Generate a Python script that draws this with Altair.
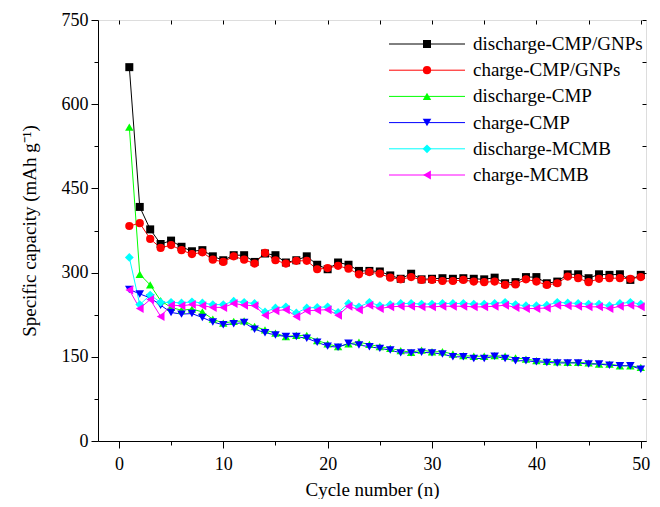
import altair as alt
import pandas as pd

cycles = list(range(1, 51))

names = ["discharge-CMP/GNPs", "charge-CMP/GNPs", "discharge-CMP",
         "charge-CMP", "discharge-MCMB", "charge-MCMB"]

dis_cmp_gnp = [666, 417, 377, 351, 357, 346, 338, 340, 329, 322,
               331, 331, 319, 334, 331, 318, 322, 329, 314, 306,
               318, 314, 303, 303, 302, 295, 289, 298, 288, 289,
               290, 289, 290, 289, 288, 291, 281, 283, 292, 292,
               281, 284, 297, 297, 290, 297, 296, 297, 287, 296]
chg_cmp_gnp = [383, 388, 360, 344, 349, 340, 333, 336, 323, 319,
               329, 323, 316, 335, 322, 316, 321, 321, 306, 308,
               312, 307, 297, 301, 298, 291, 288, 292, 287, 287,
               285, 285, 287, 284, 283, 284, 278, 279, 288, 284,
               278, 281, 293, 290, 283, 289, 290, 290, 289, 292]
dis_cmp = [559, 297, 278, 250, 238, 233, 235, 230, 217, 210,
           213, 214, 204, 198, 192, 186, 188, 188, 179, 173,
           168, 173, 176, 172, 168, 165, 161, 158, 162, 159,
           159, 155, 152, 151, 151, 152, 151, 148, 146, 143,
           142, 141, 140, 140, 139, 137, 137, 134, 134, 131]
chg_cmp = [270, 262, 255, 242, 229, 226, 227, 220, 212, 207,
           209, 211, 199, 193, 189, 186, 186, 183, 176, 169,
           167, 174, 171, 168, 165, 162, 157, 157, 158, 157,
           155, 150, 150, 147, 147, 151, 147, 143, 143, 141,
           140, 139, 139, 139, 137, 137, 135, 134, 134, 128]
dis_mcmb = [327, 243, 260, 247, 247, 246, 248, 246, 243, 243,
            249, 247, 245, 230, 237, 239, 228, 237, 238, 239,
            229, 245, 239, 247, 241, 243, 245, 245, 244, 244,
            245, 245, 245, 244, 244, 245, 247, 243, 241, 241,
            242, 247, 246, 245, 244, 244, 241, 245, 247, 244]
chg_mcmb = [269, 236, 252, 222, 242, 241, 243, 241, 238, 238,
            245, 242, 241, 224, 232, 234, 222, 232, 233, 234,
            224, 240, 234, 242, 236, 239, 240, 240, 239, 239,
            240, 240, 240, 239, 239, 240, 242, 238, 236, 236,
            237, 242, 241, 240, 239, 239, 236, 240, 242, 239]

series_values = [dis_cmp_gnp, chg_cmp_gnp, dis_cmp, chg_cmp, dis_mcmb, chg_mcmb]

colors = ["#000000", "#ff0000", "#00ff00", "#0000ff", "#00ffff", "#ff00ff"]
shapes = ["square", "circle", "triangle-up", "triangle-down", "diamond", "triangle-left"]
sizes = [64, 81, 130, 130, 110, 120]

x_major = [0, 10, 20, 30, 40, 50]
x_minor = [5, 15, 25, 35, 45]
x_all = [0, 5, 10, 15, 20, 25, 30, 35, 40, 45, 50]
y_major = [0, 150, 300, 450, 600, 750]
y_minor = [75, 225, 375, 525, 675]
y_all = [0, 75, 150, 225, 300, 375, 450, 525, 600, 675, 750]

rows = []
for name, vals in zip(names, series_values):
    for c, v in zip(cycles, vals):
        rows.append({"cycle": c, "capacity": v, "series": name})
df = pd.DataFrame(rows)
leg = pd.DataFrame({"series": names})

FONT = "Liberation Serif"
xdom = alt.Scale(domain=[-2.0, 50.5], nice=False, zero=False)
ydom = alt.Scale(domain=[0, 750], nice=False)
color_s = alt.Scale(domain=names, range=colors)
shape_s = alt.Scale(domain=names, range=shapes)
size_s = alt.Scale(domain=names, range=sizes)

common_axis = dict(grid=False, domainColor="black", tickColor="black",
                   labelColor="black", titleColor="black",
                   labelFont=FONT, titleFont=FONT, labelFontSize=18,
                   titleFontSize=19, titleFontWeight="normal")

lines = alt.Chart(df).mark_line(strokeWidth=1).encode(
    x=alt.X("cycle:Q", scale=xdom,
            axis=alt.Axis(values=x_major, tickSize=7, labelPadding=7,
                          title="Cycle number (n)", titlePadding=7, **common_axis)),
    y=alt.Y("capacity:Q", scale=ydom,
            axis=alt.Axis(values=y_major, tickSize=7, labelPadding=3,
                          title="Specific capacity (mAh g\u207b\u00b9)",
                          titlePadding=22, **common_axis)),
    color=alt.Color("series:N", scale=color_s, legend=None),
    detail="series:N",
)

points = alt.Chart(df).mark_point(filled=True, opacity=1).encode(
    x=alt.X("cycle:Q", scale=xdom,
            axis=alt.Axis(values=x_minor, tickSize=4, labels=False, domain=False,
                          title=None, orient="bottom", grid=False, tickColor="black")),
    y=alt.Y("capacity:Q", scale=ydom,
            axis=alt.Axis(values=y_minor, tickSize=4, labels=False, domain=False,
                          title=None, orient="left", grid=False, tickColor="black")),
    color=alt.Color("series:N", scale=color_s, legend=None),
    shape=alt.Shape("series:N", scale=shape_s, legend=None),
    size=alt.Size("series:N", scale=size_s, legend=None),
)

ghost = alt.Chart(df).mark_point(opacity=0).encode(
    x=alt.X("cycle:Q", scale=xdom,
            axis=alt.Axis(values=x_all, tickSize=4, offset=-4, labels=False, domain=False,
                          title=None, orient="top", grid=False, tickColor="black")),
    y=alt.Y("capacity:Q", scale=ydom,
            axis=alt.Axis(values=y_all, tickSize=4, offset=-4, labels=False, domain=False,
                          title=None, orient="right", grid=False, tickColor="black")),
)

leg_y = alt.Y("series:N", scale=alt.Scale(type="point", domain=names, range=[24, 155], padding=0),
              axis=None)

leg_rule = alt.Chart(leg).mark_rule(strokeWidth=1).encode(
    x=alt.value(291), x2=alt.value(367), y=leg_y,
    color=alt.Color("series:N", scale=color_s, legend=None),
)
leg_pt = alt.Chart(leg).mark_point(filled=True, opacity=1).encode(
    x=alt.value(329), y=leg_y,
    color=alt.Color("series:N", scale=color_s, legend=None),
    shape=alt.Shape("series:N", scale=shape_s, legend=None),
    size=alt.Size("series:N", scale=size_s, legend=None),
)
leg_txt = alt.Chart(leg).mark_text(align="left", baseline="middle", font=FONT,
                                   fontSize=19, color="black").encode(
    x=alt.value(375), y=leg_y, text="series:N",
)

chart = alt.layer(lines, points, ghost, leg_rule, leg_pt, leg_txt).resolve_scale(
    x="independent", y="independent"
).resolve_axis(
    x="independent", y="independent"
).properties(
    width=548, height=421,
    autosize=alt.AutoSizeParams(type="none"),
    padding={"left": 90, "top": 12, "right": 6, "bottom": 58},
).configure_view(stroke="black", strokeWidth=1).configure(background="white")

chart.save("out.html", embed_options={"renderer": "svg", "actions": False})
